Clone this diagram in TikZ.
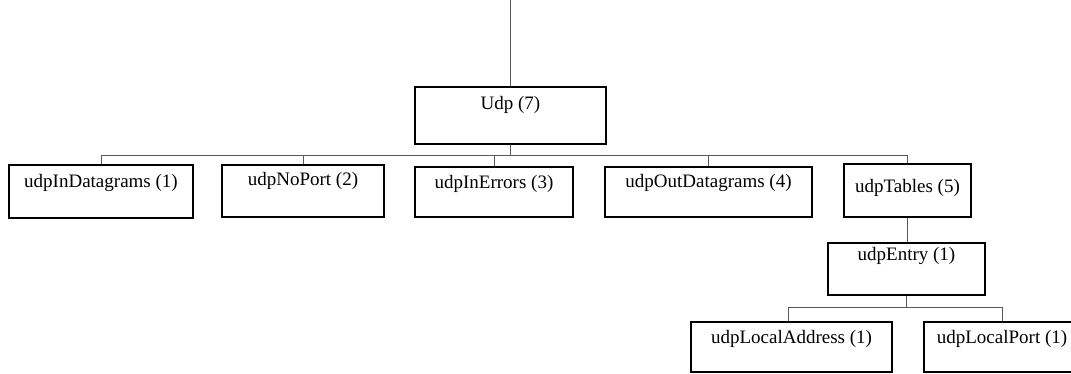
\documentclass[tikz,border=0pt]{standalone}
\usepackage{fontspec}
\setmainfont{Liberation Serif}
\begin{document}
\begin{tikzpicture}[x=1pt,y=-1pt,
  box/.style={draw=black, line width=1.3pt, rectangle, inner sep=0pt,
              font=\fontsize{19pt}{22pt}\selectfont},
  conn/.style={draw=black!65, line width=0.8pt}]
\useasboundingbox (0,0) rectangle (1071,374);
\clip (0,0) rectangle (1071,374);

% tree nodes
\node[box, minimum width=191pt, text height=23pt, text depth=34pt] (udp)    at (510.5,115.5) {Udp (7)};
\node[box, minimum width=184pt, text height=23pt, text depth=30pt] (in1)    at (101,191.5)   {udpInDatagrams (1)};
\node[box, minimum width=162pt, text height=21pt, text depth=31pt] (noport) at (303,191)     {udpNoPort (2)};
\node[box, minimum width=158pt, text height=22pt, text depth=28pt] (errors) at (494,192)     {udpInErrors (3)};
\node[box, minimum width=207pt, text height=21pt, text depth=29pt] (outdg)  at (708.5,192)   {udpOutDatagrams (4)};
\node[box, minimum width=127pt, text height=29pt, text depth=24pt] (tables) at (907.5,190.5) {udpTables (5)};
\node[box, minimum width=157pt, text height=18pt, text depth=34pt] (entry)  at (906.5,269)   {udpEntry (1)};
\node[box, minimum width=201pt, text height=21pt, text depth=29pt] (laddr)  at (791.5,347)   {udpLocalAddress (1)};
\node[box, minimum width=156pt, text height=21pt, text depth=29pt] (lport)  at (1002,347)    {udpLocalPort (1)};

% bus levels and the parent link entering from above
\coordinate (root) at (510,0);
\coordinate (bus)  at (0,155);
\coordinate (ebus) at (0,307);

\draw[conn] (root) -- (root |- udp.north);

% first level
\draw[conn] (in1.north |- bus) -- (tables.north |- bus);
\draw[conn] (udp.south) -- (udp.south |- bus);
\draw[conn] (in1.north) -- (in1.north |- bus);
\draw[conn] (noport.north) -- (noport.north |- bus);
\draw[conn] (errors.north) -- (errors.north |- bus);
\draw[conn] (outdg.north) -- (outdg.north |- bus);
\draw[conn] (tables.north) -- (tables.north |- bus);

% table branch
\draw[conn] (tables.south) -- (tables.south |- entry.north);
\draw[conn] ([xshift=-3pt]laddr.north |- ebus) -- (lport.north |- ebus);
\draw[conn] (entry.south) -- (entry.south |- ebus);
\draw[conn] ([xshift=-3pt]laddr.north) -- ([xshift=-3pt]laddr.north |- ebus);
\draw[conn] (lport.north) -- (lport.north |- ebus);
\end{tikzpicture}
\end{document}
